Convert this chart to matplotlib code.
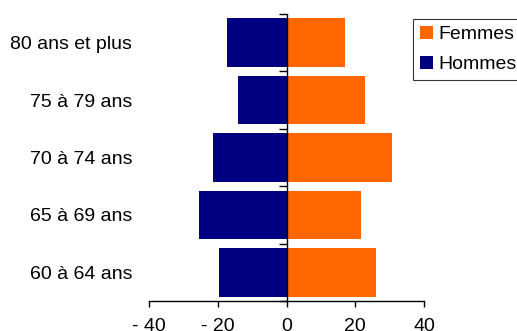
import matplotlib
matplotlib.use("Agg")
import matplotlib.pyplot as plt
import numpy as np

plt.rcParams['font.family'] = ['Liberation Sans', 'DejaVu Sans']

categories = ["60 à 64 ans", "65 à 69 ans", "70 à 74 ans", "75 à 79 ans", "80 ans et plus"]
hommes = [19.5, 25.6, 21.5, 14.2, 17.4]
femmes = [25.9, 21.8, 30.8, 22.7, 16.9]
xticks = [-40, -20, 0, 20, 40]
xticklabels = ["- 40", "- 20", "0", "20", "40"]

fig = plt.figure(figsize=(5.17, 3.31), dpi=100)
ax = fig.add_axes([149/517, 1-301/331, 275/517, 287/331])

y = np.arange(len(categories))
ax.barh(y, [-h for h in hommes], height=0.85, color="#000080", label="Hommes", zorder=2)
ax.barh(y, femmes, height=0.85, color="#FF6600", label="Femmes", zorder=2)

ax.set_xlim(-40, 40)
ax.set_ylim(-0.5, len(categories) - 0.5)
ax.set_xticks(xticks)
ax.set_xticklabels(xticklabels, fontsize=14)
ax.set_yticks(y)
ax.set_yticklabels(categories, fontsize=14)
ax.tick_params(axis='y', length=0, pad=12)
ax.tick_params(axis='x', length=4, width=1, direction='out', pad=8)

for s in ['top', 'right', 'left']:
    ax.spines[s].set_visible(False)
ax.spines['bottom'].set_linewidth(1)

ax.axvline(0, color='black', linewidth=1, zorder=3)
bounds = np.arange(len(categories) + 1) - 0.5
ax.plot(np.zeros_like(bounds), bounds, linestyle='none', marker=0, markersize=6,
        markeredgewidth=1, color='black', zorder=3, clip_on=False)

handles, labels = ax.get_legend_handles_labels()
leg = fig.legend([handles[1], handles[0]], [labels[1], labels[0]],
                 loc='upper left', bbox_to_anchor=(413/517, 1-19/331),
                 fontsize=14, frameon=True, fancybox=False, edgecolor='black',
                 handlelength=0.68, handleheight=0.68, handletextpad=0.3,
                 labelspacing=0.65, borderpad=0.35, borderaxespad=0)
leg.get_frame().set_linewidth(0.8)

fig.savefig("out.png", dpi=100)
